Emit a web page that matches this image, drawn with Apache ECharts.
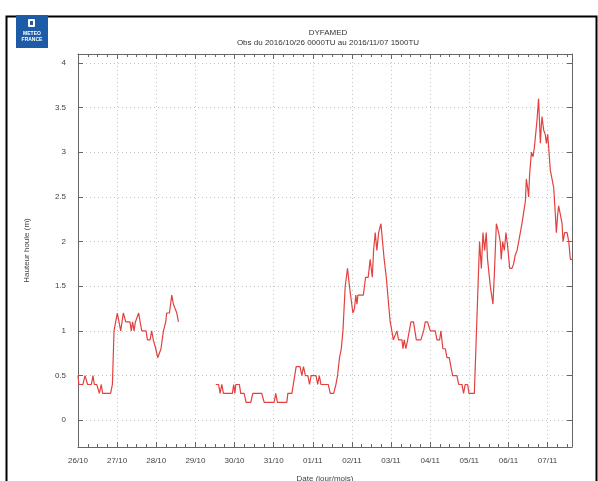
<!DOCTYPE html>
<html>
<head>
<meta charset="utf-8">
<script src="https://cdn.jsdelivr.net/npm/echarts@6.0.0/dist/echarts.min.js"></script>
<style>
  html, body { margin: 0; padding: 0; background: #fff; }
  #main { width: 598px; height: 481px; }
</style>
</head>
<body>
<div id="main"></div>
<script>
// axe X : heures depuis le 26/10 0000TU, un libelle par jour
const dayLabels = ['26/10', '27/10', '28/10', '29/10', '30/10', '31/10', '01/11',
  '02/11', '03/11', '04/11', '05/11', '06/11', '07/11']

const hours = [
  0, 0.5, 3, 4.3, 5.9, 8.2, 9.2, 10, 11.5, 12.4, 13.1, 14.3, 15.1, 20, 21.1, 22.1, 23.1, 24.1,
  26.2, 27.8, 29.3, 31.9, 32.7, 33.5, 34.4, 35.2, 37.2, 38.1, 39.1, 41.7, 42.6, 44.2, 45.2,
  46.2, 47, 47.7, 48.9, 49.9, 50.9, 52.4, 53.2, 53.8, 54.4, 56.1, 57.5, 58.5, 59.5, 60.6, 61.6,
  73, // trou dans les obs
  84.5, 86.2, 87.2, 88.2, 89.2, 94.7, 95.5, 96.2, 96.8, 99, 99.8, 101.9, 103.1, 106, 107.2,
  112.7, 114.2, 120.3, 121.3, 122.3, 128.1, 128.7, 131.2, 133.8, 136.2, 137.3, 138.3, 139.5,
  141, 142, 143, 146, 147, 148, 149, 153.5, 154.7, 156.8, 158.2, 159.2, 160.4, 161.5, 162.5,
  163.9, 165.3, 166.5, 167.3, 168.6, 169.6, 170.4, 171.1, 171.7, 175, 176.4, 178, 179.2, 180.5,
  181.3, 182.3, 183.3, 184.4, 185.8, 186.6, 187.8, 189.1, 190.5, 191.5, 192.5, 193.4, 194.6,
  195.6, 196.6, 198.7, 199.3, 200.1, 201.1, 202.2, 204.2, 205.8, 207.5, 210.3, 212, 213, 214.4,
  216.1, 219.1, 220.2, 221.8, 222.6, 223.8, 225.3, 226.3, 227.7, 228.7, 229.8, 232.4, 233.5,
  235.5, 236.5, 237.5, 239, 239.8, 243.1, 246.3, 247.4, 248.4, 249.4, 250.4, 251.2, 252.9,
  254.5, 255.3, 256.6, 258, 259, 259.6, 260.5, 261.5, 262.5, 263.5, 264.8, 266.2, 267.2, 268.2,
  269.3, 270.3, 271.3, 272.3, 273.3, 274.4, 275, 275.8, 276.4, 277, 278.1, 279.1, 279.9, 280.7,
  281.5, 282.5, 283.6, 284.2, 284.6, 285.6, 286.6, 287.3, 288.1, 288.9, 289.7, 290.7, 291.8,
  292.8, 293.4, 294.2, 294.8, 295.9, 296.9, 297.5, 298.5, 300, 301, 302, 303
]

// hauteur houle (m)
const houle = [
  0.5, 0.4, 0.4, 0.5, 0.4, 0.4, 0.5, 0.4, 0.4, 0.4, 0.3, 0.4, 0.3, 0.3, 0.4, 1.0, 1.1, 1.2,
  1.0, 1.2, 1.1, 1.1, 1.0, 1.1, 1.0, 1.1, 1.2, 1.1, 1.0, 1.0, 0.9, 0.9, 1.0,
  0.9, 0.9, 0.8, 0.7, 0.7, 0.8, 1.0, 1.0, 1.1, 1.2, 1.2, 1.4, 1.3, 1.3, 1.2, 1.1,
  null,
  0.4, 0.4, 0.3, 0.4, 0.3, 0.3, 0.4, 0.3, 0.4, 0.4, 0.3, 0.3, 0.2, 0.2, 0.3,
  0.3, 0.2, 0.2, 0.3, 0.2, 0.2, 0.3, 0.3, 0.6, 0.6, 0.5, 0.6, 0.5,
  0.5, 0.4, 0.5, 0.5, 0.4, 0.5, 0.4, 0.4, 0.3, 0.3, 0.4, 0.5, 0.7, 0.8, 1.0,
  1.5, 1.7, 1.5, 1.5, 1.2, 1.25, 1.4, 1.3, 1.4, 1.4, 1.6, 1.6, 1.8, 1.6,
  1.9, 2.1, 1.9, 2.1, 2.2, 2.2, 1.8, 1.6, 1.3, 1.1, 1.0, 0.9, 0.9,
  1.0, 0.9, 0.9, 0.8, 0.9, 0.8, 0.9, 1.1, 1.1, 0.9, 0.9, 1.0, 1.1, 1.1,
  1.0, 1.0, 0.9, 0.9, 1.0, 0.8, 0.8, 0.7, 0.7, 0.6, 0.5, 0.5, 0.4,
  0.4, 0.3, 0.4, 0.4, 0.3, 0.3, 2.0, 1.7, 2.1, 1.9, 2.1, 1.8, 1.5,
  1.3, 1.6, 2.2, 2.1, 2.0, 1.8, 2.0, 1.9, 2.1, 1.95, 1.7, 1.7, 1.75, 1.85,
  1.9, 2.0, 2.0, 2.2, 2.2, 2.45, 2.7, 2.6, 2.5, 2.75, 3.0, 2.95, 3.05, 3.2,
  3.35, 3.6, 3.1, 3.3, 3.4, 3.25, 3.2, 3.1, 3.2, 3.0, 2.8, 2.8, 2.6,
  2.3, 2.1, 2.3, 2.4, 2.3, 2.2, 2.0, 2.1, 2.1, 2.0, 1.8, 1.8
]

const xMax = 303 // 07/11 1500TU
const frameColor = '#666'
const gridLine = { show: true, lineStyle: { color: '#c4c4c4', width: 1, type: [1, 3] } }
const tickStyle = { color: frameColor, width: 1 }

const myChart = echarts.init(document.getElementById('main'))

const option = {
  animation: false,
  backgroundColor: '#fff',
  textStyle: { fontFamily: 'Liberation Sans, Arial, sans-serif' },
  title: [
    {
      text: 'DYFAMED',
      left: 323, top: 24, textAlign: 'center',
      textStyle: { fontSize: 8, fontWeight: 'normal', color: '#333', fontFamily: 'Liberation Sans' }
    },
    {
      text: 'Obs du 2016/10/26 0000TU au 2016/11/07 1500TU',
      left: 323, top: 34, textAlign: 'center',
      textStyle: { fontSize: 8, fontWeight: 'normal', color: '#333', fontFamily: 'Liberation Sans' }
    }
  ],
  grid: { left: 78, right: 26, top: 54, bottom: 34, containLabel: false, outerBoundsMode: 'none' },
  xAxis: [
    {
      type: 'value', position: 'bottom', min: 0, max: xMax, interval: 24,
      name: 'Date (jour/mois)', nameLocation: 'middle', nameGap: 28,
      nameTextStyle: { fontSize: 8, color: '#444' },
      axisLine: { onZero: false, lineStyle: { color: frameColor } },
      axisTick: { inside: true, length: 5, lineStyle: tickStyle },
      minorTick: { show: true, splitNumber: 4, length: 3, lineStyle: tickStyle },
      axisLabel: {
        fontSize: 8, color: '#444', margin: 10, showMaxLabel: false,
        formatter: (v) => dayLabels[v / 24] || ''
      },
      splitLine: gridLine
    },
    {
      type: 'value', position: 'top', min: 0, max: xMax, interval: 24,
      axisLine: { onZero: false, lineStyle: { color: frameColor } },
      axisTick: { inside: true, length: 5, lineStyle: tickStyle },
      minorTick: { show: true, splitNumber: 4, length: 3, lineStyle: tickStyle },
      axisLabel: { show: false },
      splitLine: { show: false }
    }
  ],
  yAxis: [
    {
      type: 'value', position: 'left', min: -0.3, max: 4.1, splitNumber: 9,
      name: 'Hauteur houle (m)', nameLocation: 'middle', nameGap: 47,
      nameTextStyle: { fontSize: 8, color: '#444' },
      axisLine: { onZero: false, lineStyle: { color: frameColor } },
      axisTick: { inside: true, length: 5, lineStyle: tickStyle },
      axisLabel: { fontSize: 8, color: '#444', margin: 12, showMinLabel: false, showMaxLabel: false },
      splitLine: gridLine
    },
    {
      type: 'value', position: 'right', min: -0.3, max: 4.1, splitNumber: 9,
      axisLine: { onZero: false, lineStyle: { color: frameColor } },
      axisTick: { inside: true, length: 5, lineStyle: tickStyle },
      axisLabel: { show: false },
      splitLine: { show: false }
    }
  ],
  series: [
    {
      name: 'houle',
      type: 'line',
      xAxisIndex: 0,
      yAxisIndex: 0,
      showSymbol: false,
      connectNulls: false,
      lineStyle: { color: '#e2413f', width: 1.2 },
      data: hours.map((h, i) => [h, houle[i]])
    }
  ],
  graphic: [
    // cadre noir autour de l'image
    {
      type: 'rect', left: 4, top: 14, silent: true,
      shape: { width: 590, height: 480 },
      style: { fill: null, stroke: '#000', lineWidth: 2 }
    },
    // logo Meteo France
    {
      type: 'group', left: 16, top: 15,
      children: [
        { type: 'rect', shape: { x: 0, y: 0, width: 32, height: 33 }, style: { fill: '#1d5ba6' } },
        { type: 'rect', shape: { x: 12, y: 4, width: 7, height: 8, r: 1 }, style: { fill: '#fff' } },
        { type: 'rect', shape: { x: 14, y: 6, width: 3, height: 4 }, style: { fill: '#1d5ba6' } },
        {
          type: 'text', x: 16, y: 16,
          style: { text: 'METEO', fill: '#fff', font: 'bold 5px Liberation Sans', align: 'center' }
        },
        {
          type: 'text', x: 16, y: 22,
          style: { text: 'FRANCE', fill: '#fff', font: 'bold 5px Liberation Sans', align: 'center' }
        }
      ]
    }
  ]
}

myChart.setOption(option)
</script>
</body>
</html>
